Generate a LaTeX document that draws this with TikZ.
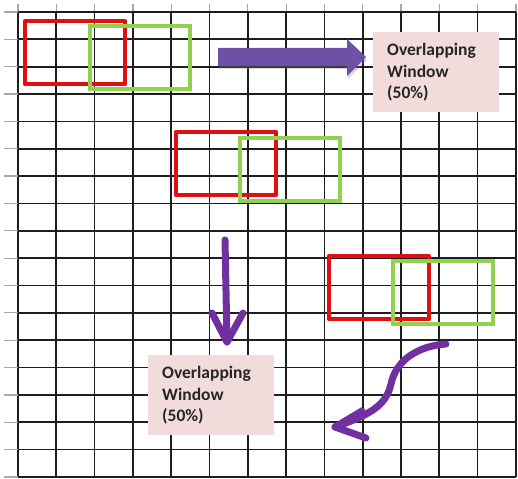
\documentclass[tikz,border=0pt]{standalone}
\usepackage{fontspec}
\setmainfont{Carlito}
\usetikzlibrary{shadows}
\definecolor{gridc}{HTML}{1E1E1E}
\definecolor{stubc}{HTML}{A8A8A8}
\definecolor{redc}{HTML}{E01010}
\definecolor{greenc}{HTML}{92D050}
\definecolor{purpc}{HTML}{7030A0}
\definecolor{purpl}{HTML}{7050A4}
\definecolor{pinkc}{HTML}{F2DCDB}
\definecolor{textc}{HTML}{262626}
\tikzset{
  redbox/.style={draw=redc, line width=4.2pt, line join=round, minimum width=100pt, minimum height=63pt, anchor=north west, inner sep=0pt, outer sep=0pt},
  greenbox/.style={draw=greenc, line width=3.6pt, minimum width=100pt, minimum height=63pt, anchor=north west, inner sep=0pt, outer sep=0pt},
  labelbox/.style={fill=pinkc, anchor=north west, minimum width=126pt, minimum height=80pt, inner xsep=14pt, inner ysep=0pt, text width=98pt, align=left, text=textc, font=\bfseries\fontsize{17.5}{21.5}\selectfont},
  gridline/.style={draw=gridc, line width=1.7pt},
  stubline/.style={draw=stubc, line width=1.2pt},
  handarrow/.style={draw=purpc, line width=7pt, line cap=round, line join=round},
}
\begin{document}
\begin{tikzpicture}[x=1pt, y=-1pt]
\fill[white] (0,0) rectangle (518,478);
\useasboundingbox (0,0) rectangle (518,478);
% grid
\foreach \i in {0,...,13} {
  \draw[stubline] ({18+38.3*\i},4) -- ({18+38.3*\i},12);
  \draw[gridline] ({18+38.3*\i},12) -- ({18+38.3*\i},477);
}
\foreach \j in {0,...,17} {
  \draw[stubline] (4,{12+27.35*\j}) -- (18,{12+27.35*\j});
  \draw[gridline] (18,{12+27.35*\j}) -- (516,{12+27.35*\j});
}
% windows
\node[redbox] (r1) at (25,21) {};
\node[greenbox] (g1) at (90,26) {};
\node[redbox] (r2) at (176,132) {};
\node[greenbox] (g2) at (240,138) {};
\node[redbox] (r3) at (329,256) {};
\node[greenbox] (g3) at (393,261) {};
% labels
\node[labelbox] (l1) at (373,32) {Overlapping\\Window\\(50\%)};
\node[labelbox] (l2) at (148,355) {Overlapping\\Window\\(50\%)};
% arrow 1 (block arrow)
\coordinate (a1s) at (218,57);
\coordinate (a1t) at (366,57);
\fill[purpl, drop shadow={shadow xshift=1pt, shadow yshift=-3pt, opacity=0.3}]
  (218,48) -- (347,48) -- (347,39) -- (a1t) -- (347,76) -- (347,66) -- (218,66) -- cycle;
% arrow 2 (down)
\coordinate (a2s) at (225,240);
\coordinate (a2t) at (227,342);
\draw[handarrow] (a2s) -- (a2t);
\draw[handarrow] (212,313) -- (a2t) -- (243,313);
% arrow 3 (curved)
\coordinate (a3s) at (446,344);
\coordinate (a3t) at (335,427);
\draw[handarrow] (a3s) .. controls (418,346) and (396,360) .. (391,384)
  .. controls (386,405) and (372,414) .. (a3t);
\draw[handarrow] (362,411) -- (a3t) -- (366,438);
\fill[purpc] (a3t) -- (362,407) -- (366,418) -- cycle;
\end{tikzpicture}
\end{document}
